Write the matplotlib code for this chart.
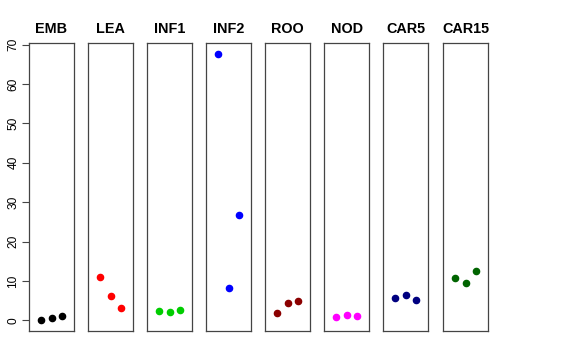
import matplotlib
matplotlib.use("Agg")
import matplotlib.pyplot as plt

plt.rcParams['font.family'] = ['Liberation Sans', 'DejaVu Sans']

tissues = ['EMB', 'LEA', 'INF1', 'INF2', 'ROO', 'NOD', 'CAR5', 'CAR15']
colors = ['black', 'red', '#00CD00', 'blue', '#8B0000', 'magenta', '#000080', '#006400']

emb = [0.0, 0.6, 1.1]
lea = [11.0, 6.1, 3.1]
inf1 = [2.3, 2.0, 2.5]
inf2 = [67.7, 8.1, 26.8]
roo = [1.9, 4.3, 4.9]
nod = [0.9, 1.3, 1.1]
car5 = [5.7, 6.5, 5.2]
car15 = [10.7, 9.6, 12.5]
values = [emb, lea, inf1, inf2, roo, nod, car5, car15]

reps = [1, 2, 3]
yticks = [0, 10, 20, 30, 40, 50, 60, 70]

fig = plt.figure(figsize=(5.76, 3.6), dpi=100)

W, H = 576, 360
lefts = [29, 88, 147, 206, 265, 324, 383, 443]
pw = 45
top, bottom = 43, 331

# common y range, like R's default 4% padding
all_vals = [v for vals in values for v in vals]
lo, hi = min(all_vals), max(all_vals)
pad = 0.04 * (hi - lo)

for i, (name, vals, c) in enumerate(zip(tissues, values, colors)):
    ax = fig.add_axes([lefts[i] / W, (H - bottom) / H, pw / W, (bottom - top) / H])
    ax.scatter(reps, vals, color=c, s=20, zorder=3)
    ax.set_xlim(-0.16, 4.16)
    ax.set_ylim(lo - pad, hi + pad)
    ax.set_xticks([])
    ax.set_title(name, fontsize=10.4, fontweight='bold', pad=7)
    for s in ax.spines.values():
        s.set_color('#444444')
        s.set_linewidth(0.9)
    if i == 0:
        ax.set_yticks(yticks)
        ax.set_yticklabels([str(t) for t in yticks], rotation=90, va='center', fontsize=8.6)
        ax.tick_params(axis='y', length=5, width=0.8, pad=2, color='#444444')
    else:
        ax.set_yticks([])

fig.savefig('out.png', dpi=100)
